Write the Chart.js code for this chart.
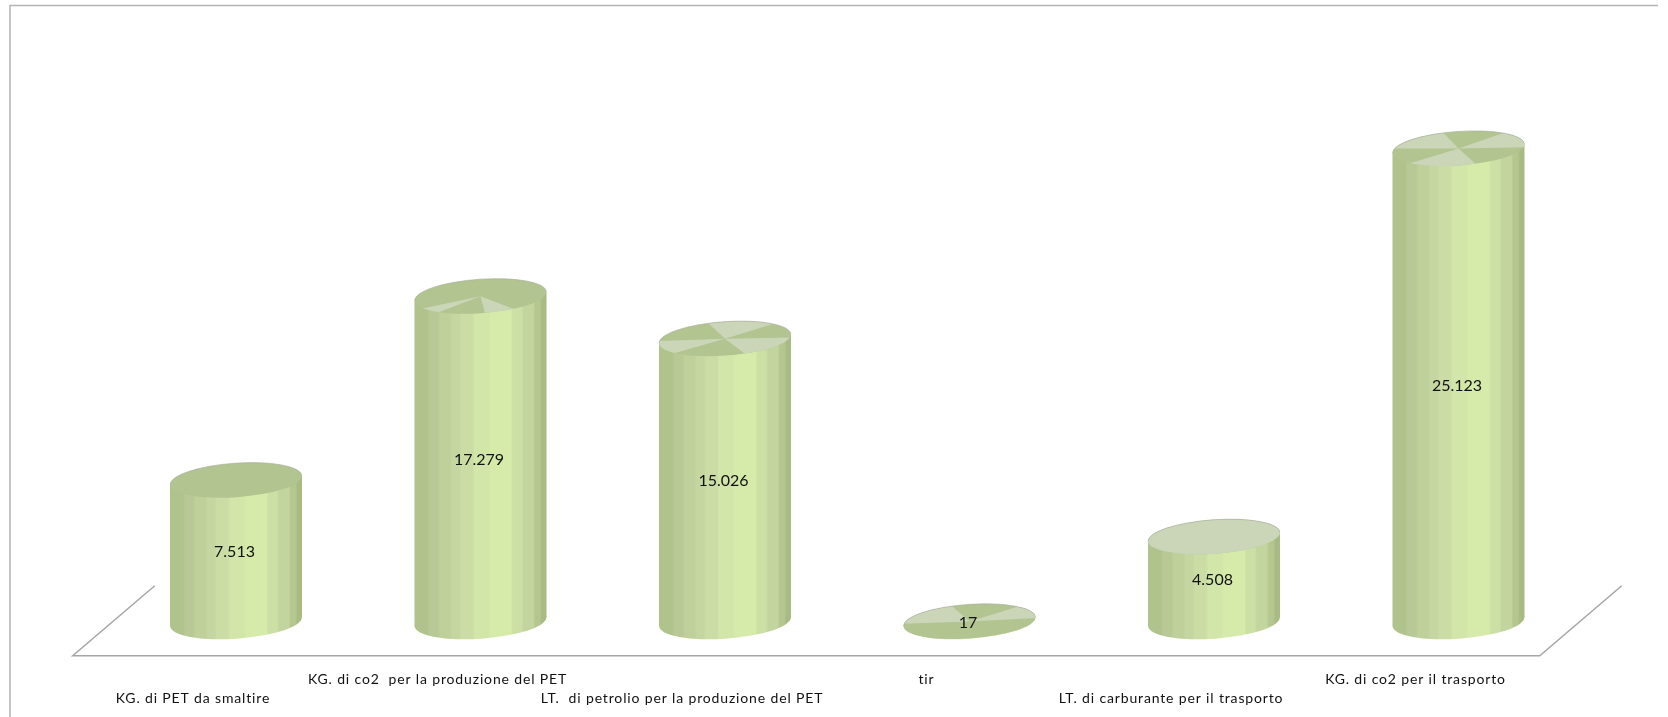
<!DOCTYPE html>
<html>
<head>
<meta charset="utf-8">
<title>PET</title>
<script src="https://cdn.jsdelivr.net/npm/chart.js@4/dist/chart.umd.min.js"></script>
<style>
    html, body { margin: 0; padding: 0; background: #fff; }
    canvas { display: block; }
</style>
</head>
<body>
<canvas id="chart" width="1668" height="717"></canvas>
<script>
var categories = [
    'KG. di PET da smaltire',
    'KG. di co2  per la produzione del PET',
    'LT.  di petrolio per la produzione del PET',
    'tir',
    'LT. di carburante per il trasporto',
    'KG. di co2 per il trasporto'
];
var values = [7513, 17279, 15026, 17, 4508, 25123];

// Lit wedges of each cylinder's top, in degrees clockwise from the right.
var capWedges = [
    [],
    [[159, 168], [21, 75]],
    [[223, 343], [359, 397], [164, 178]],
    [[178, 221], [343, 357]],
    [[0, 360]],
    [[180, 226], [341, 359], [42, 163]]
];

var bands = [
    [0.00, '#b1c38d'], [0.10, '#b8c995'], [0.18, '#bfd09a'], [0.27, '#c5d6a0'],
    [0.34, '#cbdda5'], [0.44, '#d3e6a9'], [0.56, '#d6eaaa'], [0.73, '#cce0a5'],
    [0.81, '#c2d59e'], [0.90, '#b5c78f'], [0.95, '#a8bb84']
];

var capDark = '#b2c490';
var capLight = '#cbd6b9';
var lineGrey = '#a6a6a6';
var capRadiusY = 17;
var capTilt = -4 * Math.PI / 180;

function formatValue(v) {
    return String(v).replace(/\B(?=(\d{3})+$)/g, '.');
}

function bodyFill(ctx, cx, a) {
    var g = ctx.createLinearGradient(cx - a, 0, cx + a, 0);
    bands.forEach(function (b, i) {
        var next = i + 1 < bands.length ? bands[i + 1][0] : 1;
        // short blend at each band edge, the stripes are soft in the original
        g.addColorStop(i ? b[0] + 0.015 : 0, b[1]);
        g.addColorStop(next, b[1]);
    });
    return g;
}

function capPath(ctx, cx, cy, a) {
    ctx.beginPath();
    ctx.ellipse(cx, cy, a, capRadiusY, capTilt, 0, Math.PI * 2);
}

function drawCylinder(ctx, bar, index) {
    var a = bar.width / 2,
        cx = bar.x,
        dy = (a * a - capRadiusY * capRadiusY) * Math.sin(capTilt) * Math.cos(capTilt) / a;

    ctx.save();
    ctx.fillStyle = bodyFill(ctx, cx, a);
    capPath(ctx, cx, bar.base, a);
    ctx.fill();
    ctx.beginPath();
    ctx.moveTo(cx - a, bar.y - dy);
    ctx.lineTo(cx - a, bar.base - dy);
    ctx.lineTo(cx + a, bar.base + dy);
    ctx.lineTo(cx + a, bar.y + dy);
    ctx.closePath();
    ctx.fill();

    capPath(ctx, cx, bar.y, a);
    ctx.fillStyle = capDark;
    ctx.fill();

    ctx.save();
    capPath(ctx, cx, bar.y, a);
    ctx.clip();
    ctx.fillStyle = capLight;
    capWedges[index].forEach(function (w) {
        var from = w[0] * Math.PI / 180,
            to = w[1] * Math.PI / 180;
        ctx.beginPath();
        ctx.moveTo(cx, bar.y);
        ctx.arc(cx, bar.y, a * 2, from, to);
        ctx.closePath();
        ctx.fill();
    });
    ctx.restore();

    // Thin rim on the far side of the top.
    ctx.beginPath();
    ctx.ellipse(cx, bar.y, a, capRadiusY, capTilt, Math.PI, Math.PI * 2);
    ctx.strokeStyle = 'rgba(165, 170, 155, 0.6)';
    ctx.lineWidth = 1;
    ctx.stroke();
    ctx.restore();
}

var cylinders = {
    id: 'cylinders',
    beforeDraw: function (chart) {
        var ctx = chart.ctx,
            area = chart.chartArea;

        ctx.letterSpacing = '0.85px';

        // Frame
        ctx.save();
        ctx.strokeStyle = '#b4b4b4';
        ctx.lineWidth = 1.5;
        ctx.beginPath();
        ctx.moveTo(10, 717);
        ctx.lineTo(10, 5.5);
        ctx.lineTo(1658, 5.5);
        ctx.stroke();

        // Floor
        ctx.strokeStyle = lineGrey;
        ctx.lineWidth = 1.5;
        ctx.beginPath();
        ctx.moveTo(area.left + 41, area.bottom - 36);
        ctx.lineTo(area.left - 41, area.bottom + 34);
        ctx.lineTo(area.right - 41, area.bottom + 34);
        ctx.lineTo(area.right + 41, area.bottom - 36);
        ctx.stroke();
        ctx.restore();
    },
    afterDatasetsDraw: function (chart) {
        var ctx = chart.ctx,
            bars = chart.getDatasetMeta(0).data;

        bars.forEach(function (bar, i) {
            drawCylinder(ctx, bar, i);
        });

        ctx.save();
        ctx.letterSpacing = '0px';
        ctx.font = '16px Lato';
        ctx.fillStyle = '#111';
        ctx.textAlign = 'center';
        ctx.textBaseline = 'middle';
        bars.forEach(function (bar, i) {
            ctx.fillText(formatValue(values[i]), bar.x - 1.5, (bar.y + bar.base) / 2 + 1);
        });
        ctx.restore();
    }
};

new Chart(document.getElementById('chart').getContext('2d'), {
    type: 'bar',
    plugins: [cylinders],
    data: {
        labels: categories,
        datasets: [{
            data: values,
            backgroundColor: 'rgba(0, 0, 0, 0)',
            borderWidth: 0,
            barPercentage: 0.54,
            categoryPercentage: 1
        }]
    },
    options: {
        responsive: false,
        animation: false,
        layout: { padding: { left: 113.75, right: 87.25, top: 54.7, bottom: 0 } },
        plugins: { legend: { display: false }, tooltip: { enabled: false } },
        scales: {
            x: {
                grid: { display: false, drawTicks: false },
                border: { display: false },
                afterFit: function (scale) { scale.height = 95.3; },
                ticks: {
                    autoSkip: false,
                    maxRotation: 0,
                    minRotation: 0,
                    labelOffset: -43,
                    padding: 48,
                    color: '#111',
                    font: { family: 'Lato', size: 14, lineHeight: 1.35 },
                    callback: function (value, index) {
                        var label = this.getLabelForValue(value);
                        return index % 2 ? [label, ''] : ['', label];
                    }
                }
            },
            y: {
                display: false,
                min: 0,
                max: 30100
            }
        }
    }
});
</script>
</body>
</html>
